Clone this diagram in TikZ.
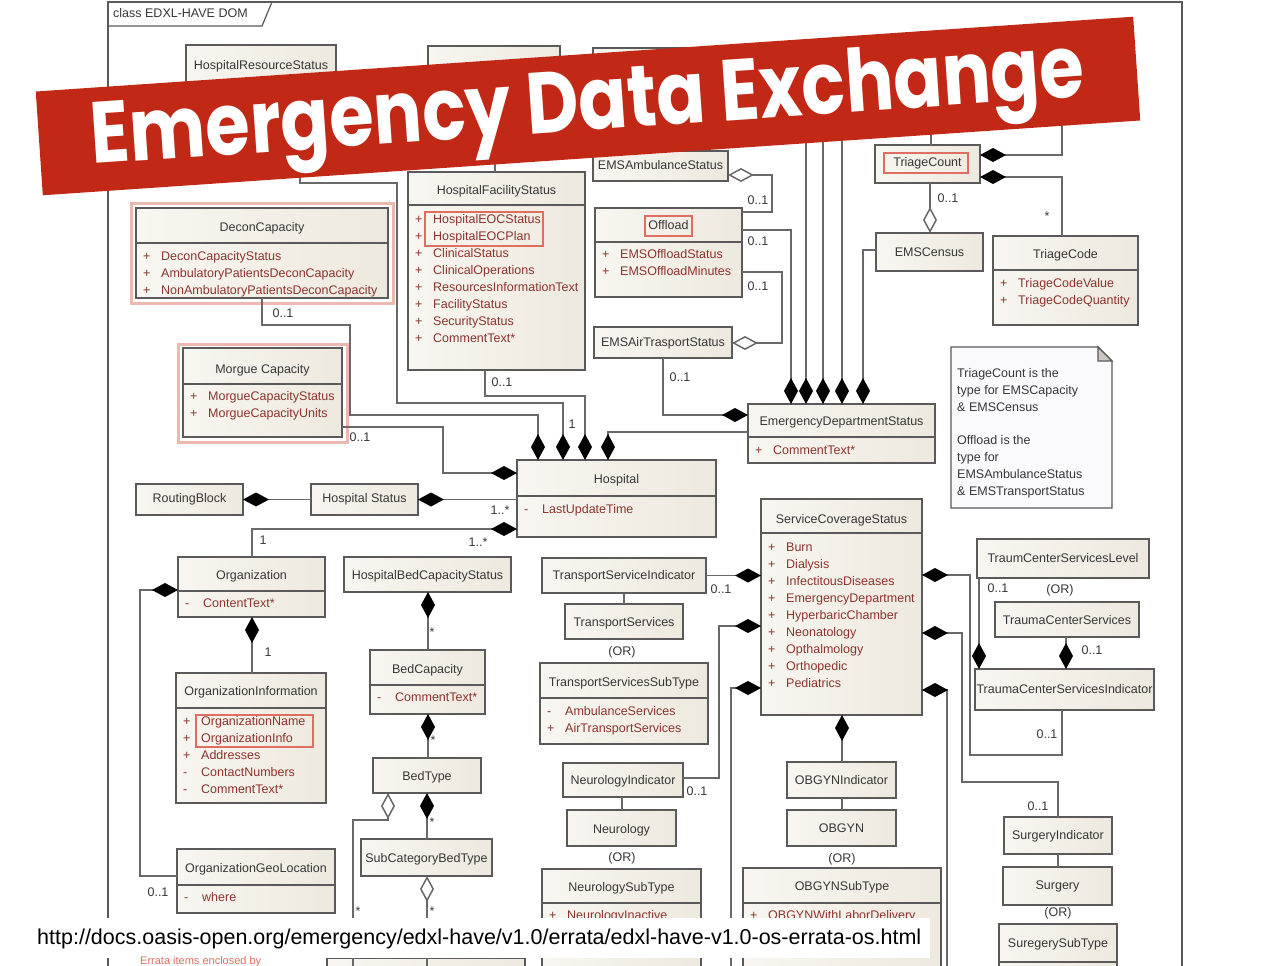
\documentclass[tikz,border=0pt]{standalone}
\usepackage{fontspec}
\usepackage{graphicx}
\usetikzlibrary{arrows.meta,fit,calc}
\newfontfamily\bx{Liberation Sans}
\newfontfamily\bannerfont{Poppins}
\definecolor{boxfill}{RGB}{238,233,222}
\definecolor{boxlight}{RGB}{248,246,241}
\definecolor{boxline}{RGB}{90,90,90}
\definecolor{conn}{RGB}{105,105,105}
\definecolor{attrc}{RGB}{140,52,45}
\definecolor{hdr}{RGB}{55,55,55}
\definecolor{errred}{RGB}{222,110,95}
\definecolor{glow}{RGB}{236,185,175}
\definecolor{bannerred}{RGB}{193,40,22}
\definecolor{notefill}{RGB}{250,249,252}
\tikzset{
 cls/.style={draw=boxline, left color=boxlight, right color=boxfill, line width=1.4pt, inner sep=0pt, outer sep=0pt},
 sepl/.style={draw=boxline, line width=1.2pt},
 ht/.style={font=\bx\fontsize{12.5}{14}\selectfont, text=hdr, inner sep=0pt, text height=9pt, text depth=2.5pt},
 attrtxt/.style={ht, text=attrc, anchor=west},
 lbl/.style={ht, text=hdr},
 cn/.style={draw=conn, line width=1.5pt},
 comp/.style={cn, -{Diamond[length=26pt,width=14pt,fill=black,color=black]}},
 agg/.style={cn, -{Diamond[length=26pt,width=14pt,fill=white]}},
 errbox/.style={draw=errred, line width=1.2pt},
}
\newcounter{tn}
\newcommand\ubox[5]{\node[cls, fit={(#2,#3) (#4,#5)}] (#1) {};}
\newcommand\usep[2]{\draw[sepl] (#1.west |- 0,#2) -- (#1.east |- 0,#2);}
\newcommand\uhead[3]{\stepcounter{tn}\node[ht, name=txt\arabic{tn}] at (#1 |- 0,#2) {#3};}
\newcommand\uattr[4]{\stepcounter{tn}\node[attrtxt, name=txt\arabic{tn}] at ($(#1.west |- 0,#2)+(7,0)$) {#3};%
 \stepcounter{tn}\node[attrtxt, name=txt\arabic{tn}] at ($(#1.west |- 0,#2)+(25,0)$) {#4};}
\newcommand\ulab[3]{\stepcounter{tn}\node[lbl, name=txt\arabic{tn}] at (#1,#2) {#3};}
\begin{document}
\begin{tikzpicture}[x=1pt,y=-1pt]
\useasboundingbox (0,0) rectangle (1288,966);
\clip (0,0) rectangle (1288,966);
\fill[white] (0,0) rectangle (1288,966);
% frame
\draw[boxline, line width=1.4pt] (108,2) rectangle (1182,1000);
\draw[boxline, line width=1.2pt] (108,26) -- (262,26) -- (272,2);
\node[ht, anchor=west] (title) at (113,14) {class EDXL-HAVE DOM};

% glows
\draw[glow, line width=3pt] (131,203) rectangle (393,303);
\draw[glow, line width=3pt] (178,344) rectangle (347,442);

% ---------- boxes ----------
\ubox{hrs}{186}{45}{336}{100}
\uhead{hrs}{66}{HospitalResourceStatus}
\ubox{boxB}{428}{46}{560}{110}
\ubox{boxC}{593}{48}{720}{110}

\ubox{decon}{136}{208}{388}{298}
\uhead{decon}{228}{DeconCapacity}
\usep{decon}{243}
\uattr{decon}{257}{+}{DeconCapacityStatus}
\uattr{decon}{274}{+}{AmbulatoryPatientsDeconCapacity}
\uattr{decon}{291}{+}{NonAmbulatoryPatientsDeconCapacity}

\ubox{morgue}{183}{348}{342}{437}
\uhead{morgue}{370}{Morgue Capacity}
\usep{morgue}{384}
\uattr{morgue}{397}{+}{MorgueCapacityStatus}
\uattr{morgue}{414}{+}{MorgueCapacityUnits}

\ubox{hfs}{408}{172}{585}{370}
\uhead{hfs}{191}{HospitalFacilityStatus}
\usep{hfs}{205}
\uattr{hfs}{220}{+}{HospitalEOCStatus}
\uattr{hfs}{237}{+}{HospitalEOCPlan}
\uattr{hfs}{254}{+}{ClinicalStatus}
\uattr{hfs}{271}{+}{ClinicalOperations}
\uattr{hfs}{288}{+}{ResourcesInformationText}
\uattr{hfs}{305}{+}{FacilityStatus}
\uattr{hfs}{322}{+}{SecurityStatus}
\uattr{hfs}{339}{+}{CommentText*}
\draw[errbox] (425,212) rectangle (543,246);

\ubox{amb}{593}{151}{728}{181}
\uhead{amb}{166}{EMSAmbulanceStatus}

\ubox{offload}{595}{208}{742}{297}
\uhead{offload}{226}{Offload}
\draw[errbox] (645,216) rectangle (692,236);
\usep{offload}{242}
\uattr{offload}{255}{+}{EMSOffloadStatus}
\uattr{offload}{272}{+}{EMSOffloadMinutes}

\ubox{air}{594}{327}{732}{358}
\uhead{air}{343}{EMSAirTrasportStatus}

\ubox{eds}{748}{404}{935}{463}
\uhead{eds}{422}{EmergencyDepartmentStatus}
\usep{eds}{437}
\uattr{eds}{451}{+}{CommentText*}

\ubox{tcount}{875}{145}{980}{183}
\uhead{tcount}{163}{TriageCount}
\draw[errbox] (884,153) rectangle (968,173);

\ubox{census}{876}{233}{983}{271}
\uhead{census}{253}{EMSCensus}

\ubox{tcode}{993}{236}{1138}{325}
\uhead{tcode}{255}{TriageCode}
\usep{tcode}{270}
\uattr{tcode}{284}{+}{TriageCodeValue}
\uattr{tcode}{301}{+}{TriageCodeQuantity}

% note
\draw[boxline, fill=notefill, line width=1.4pt] (951,347) -- (1098,347) -- (1112,361) -- (1112,508) -- (951,508) -- cycle;
\draw[boxline, fill=boxfill!70!gray, line width=1.2pt] (1098,347) -- (1098,361) -- (1112,361) -- cycle;
\node[ht, anchor=west] (n1) at (957,374) {TriageCount is the};
\node[ht, anchor=west] (n2) at (957,391) {type for EMSCapacity};
\node[ht, anchor=west] (n3) at (957,408) {\& EMSCensus};
\node[ht, anchor=west] (n4) at (957,441) {Offload is the};
\node[ht, anchor=west] (n5) at (957,458) {type for};
\node[ht, anchor=west] (n6) at (957,475) {EMSAmbulanceStatus};
\node[ht, anchor=west] (n7) at (957,492) {\& EMSTransportStatus};

\ubox{hospital}{517}{460}{716}{537}
\uhead{hospital}{480}{Hospital}
\usep{hospital}{496}
\uattr{hospital}{510}{-}{LastUpdateTime}

\ubox{hstatus}{311}{484}{418}{515}
\uhead{hstatus}{499}{Hospital Status}
\ubox{routing}{136}{484}{243}{515}
\uhead{routing}{499}{RoutingBlock}

\ubox{org}{178}{557}{325}{617}
\uhead{org}{576}{Organization}
\usep{org}{591}
\uattr{org}{604}{-}{ContentText*}

\ubox{orginfo}{176}{673}{326}{803}
\uhead{orginfo}{692}{OrganizationInformation}
\usep{orginfo}{708}
\uattr{orginfo}{722}{+}{OrganizationName}
\uattr{orginfo}{739}{+}{OrganizationInfo}
\uattr{orginfo}{756}{+}{Addresses}
\uattr{orginfo}{773}{-}{ContactNumbers}
\uattr{orginfo}{790}{-}{CommentText*}
\draw[errbox] (196,715) rectangle (313,747);

\ubox{orggeo}{177}{849}{335}{913}
\uhead{orggeo}{869}{OrganizationGeoLocation}
\usep{orggeo}{885}
\uattr{orggeo}{898}{-}{where}

\ubox{hbcs}{344}{557}{511}{592}
\uhead{hbcs}{576}{HospitalBedCapacityStatus}
\ubox{bedcap}{370}{650}{485}{714}
\uhead{bedcap}{670}{BedCapacity}
\usep{bedcap}{685}
\uattr{bedcap}{698}{-}{CommentText*}
\ubox{bedtype}{373}{758}{481}{793}
\uhead{bedtype}{777}{BedType}
\ubox{subcat}{361}{839}{492}{876}
\uhead{subcat}{859}{SubCategoryBedType}

\ubox{tsi}{542}{558}{706}{593}
\uhead{tsi}{576}{TransportServiceIndicator}
\ubox{ts}{565}{604}{683}{639}
\uhead{ts}{623}{TransportServices}
\ulab{622}{652}{(OR)}
\ubox{tsst}{540}{663}{708}{744}
\uhead{tsst}{683}{TransportServicesSubType}
\usep{tsst}{698}
\uattr{tsst}{712}{-}{AmbulanceServices}
\uattr{tsst}{729}{+}{AirTransportServices}

\ubox{neuroind}{563}{763}{683}{797}
\uhead{neuroind}{781}{NeurologyIndicator}
\ubox{neuro}{567}{810}{676}{846}
\uhead{neuro}{830}{Neurology}
\ulab{622}{858}{(OR)}
\ubox{neurost}{542}{869}{701}{1000}
\uhead{neurost}{888}{NeurologySubType}
\usep{neurost}{903}
\uattr{neurost}{916}{+}{NeurologyInactive}

\ubox{scs}{761}{499}{922}{715}
\uhead{scs}{520}{ServiceCoverageStatus}
\usep{scs}{533}
\uattr{scs}{548}{+}{Burn}
\uattr{scs}{565}{+}{Dialysis}
\uattr{scs}{582}{+}{InfectitousDiseases}
\uattr{scs}{599}{+}{EmergencyDepartment}
\uattr{scs}{616}{+}{HyperbaricChamber}
\uattr{scs}{633}{+}{Neonatology}
\uattr{scs}{650}{+}{Opthalmology}
\uattr{scs}{667}{+}{Orthopedic}
\uattr{scs}{684}{+}{Pediatrics}

\ubox{tcsl}{977}{539}{1149}{578}
\uhead{tcsl}{559}{TraumCenterServicesLevel}
\ubox{tcs}{995}{602}{1139}{637}
\uhead{tcs}{621}{TraumaCenterServices}
\ubox{tcsi}{975}{669}{1154}{710}
\uhead{tcsi}{690}{TraumaCenterServicesIndicator}

\ubox{obgynind}{787}{762}{896}{798}
\uhead{obgynind}{781}{OBGYNIndicator}
\ubox{obgyn}{787}{810}{896}{846}
\uhead{obgyn}{829}{OBGYN}
\ulab{842}{859}{(OR)}
\ubox{obgynst}{743}{868}{941}{1000}
\uhead{obgynst}{887}{OBGYNSubType}
\usep{obgynst}{903}
\uattr{obgynst}{916}{+}{OBGYNWithLaborDelivery}

\ubox{surgind}{1004}{817}{1112}{854}
\uhead{surgind}{836}{SurgeryIndicator}
\ubox{surgery}{1003}{867}{1112}{905}
\uhead{surgery}{886}{Surgery}
\ulab{1058}{913}{(OR)}
\ubox{surgst}{999}{924}{1117}{1000}
\uhead{surgst}{944}{SuregerySubType}
\usep{surgst}{962}

\ubox{errb}{327}{958}{525}{1000}

% ---------- connectors ----------
\coordinate (c1) at (300,183);
\draw[comp] (hrs.south -| 300,0) -- (c1) -- (397,183) -- (397,403) -- (563,403) -- (hospital.north -| 563,0);
\draw[comp] (decon.south) -- ++(0,27) -| (350,415) -- (538,415) -- (hospital.north -| 538,0);
\draw[comp] (hfs.south -| 485,0) -- (485,396) -- (585,396) -- (hospital.north -| 585,0);
\draw[comp] (eds.west |- 0,432) -- (608,432) -- (hospital.north -| 608,0);
\draw[comp] (morgue.east |- 0,427) -- (443,427) -- (443,473) -- (hospital.west |- 0,473);
\draw[comp] (hospital.west |- hstatus.east) -- (hstatus.east);
\draw[comp] (hstatus.west) -- (routing.east);
\draw[comp] (org.north -| 252,0) -- (252,529) -- (hospital.west |- 0,529);
\draw[comp] (orggeo.west |- 0,876) -- (140,876) -- (140,590) -- (org.west |- 0,590);
\draw[comp] (orginfo.north -| 252,0) -- (org.south -| 252,0);
\draw[comp] (bedcap.north -| 428,0) -- (hbcs.south -| 428,0);
\draw[comp] (bedtype.north -| 428,0) -- (bedcap.south -| 428,0);
\draw[comp] (subcat.north -| 427,0) -- (bedtype.south -| 427,0);
\coordinate (e1) at (353,1000);
\draw[agg] (e1) -- (353,820) -- (388,820) -- (bedtype.south -| 388,0);
\coordinate (e2) at (427,1000);
\draw[agg] (e2) -- (subcat.south -| 427,0);
\draw[comp] (tsi.east) -- (scs.west |- tsi.east);
\draw[cn] (tsi.south -| 624,0) -- (ts.north -| 624,0);
\draw[comp] (neuroind.east |- 0,778) -- (719,778) -- (719,626) -- (scs.west |- 0,626);
\draw[cn] (neuroind.south -| 622,0) -- (neuro.north -| 622,0);
\coordinate (e3) at (731,1000);
\draw[comp] (e3) -- (731,688) -- (scs.west |- 0,688);
\draw[comp] (obgynind.north -| 842,0) -- (scs.south -| 842,0);
\draw[cn] (obgynind.south -| 842,0) -- (obgyn.north -| 842,0);
\draw[comp] (tcsi.south -| 1062,0) -- (1062,755) -- (970,755) -- (970,575) -- (scs.east |- 0,575);
\draw[comp] (surgind.north -| 1058,0) -- (1058,782) -- (962,782) -- (962,633) -- (scs.east |- 0,633);
\coordinate (e4) at (947,1000);
\draw[comp] (e4) -- (947,690) -- (scs.east |- 0,690);
\draw[comp] (tcsl.south -| 979,0) -- (tcsi.north -| 979,0);
\draw[comp] (tcs.south -| 1066,0) -- (tcsi.north -| 1066,0);
\draw[cn] (surgind.south -| 1058,0) -- (surgery.north -| 1058,0);
\draw[comp] (air.south) -- (air.south |- 0,415) -- (eds.west |- 0,415);
\draw[agg] (offload.east |- 0,272) -- (782,272) -- (782,343) -- (air.east |- 0,343);
\draw[agg] (offload.east |- 0,212) -- (772,212) -- (772,175) -- (amb.east |- 0,175);
\draw[comp] (offload.east |- 0,230) -- (791,230) -- (eds.north -| 791,0);
\coordinate (t1) at (806,60);
\coordinate (t2) at (823,60);
\coordinate (t3) at (842,60);
\draw[comp] (t1) -- (eds.north -| 806,0);
\draw[comp] (t2) -- (eds.north -| 823,0);
\draw[comp] (t3) -- (eds.north -| 842,0);
\draw[comp] (census.west |- 0,250) -- (863,250) -- (eds.north -| 863,0);
\draw[agg] (tcount.south -| 930,0) -- (census.north -| 930,0);
\draw[comp] (tcode.north -| 1062,0) -- (1062,177) -- (tcount.east |- 0,177);
\coordinate (t4) at (1062,60);
\draw[comp] (t4) -- (1062,155) -- (tcount.east |- 0,155);
\coordinate (t5) at (931,60);
\draw[cn] (tcount.north -| 931,0) -- (t5);
\draw[cn] (hfs.north -| 495,0) -- (boxB.south -| 495,0);

% ---------- labels ----------
\ulab{283}{314}{0..1}
\ulab{360}{438}{0..1}
\ulab{502}{383}{0..1}
\ulab{572}{425}{1}
\ulab{500}{511}{1..*}
\ulab{478}{543}{1..*}
\ulab{263}{541}{1}
\ulab{158}{893}{0..1}
\ulab{268}{653}{1}
\ulab{432}{633}{*}
\ulab{433}{741}{*}
\ulab{432}{823}{*}
\ulab{358}{912}{*}
\ulab{432}{912}{*}
\ulab{721}{590}{0..1}
\ulab{697}{792}{0..1}
\ulab{680}{378}{0..1}
\ulab{758}{201}{0..1}
\ulab{758}{242}{0..1}
\ulab{758}{287}{0..1}
\ulab{948}{199}{0..1}
\ulab{1047}{217}{*}
\ulab{998}{589}{0..1}
\ulab{1060}{590}{(OR)}
\ulab{1092}{651}{0..1}
\ulab{1047}{735}{0..1}
\ulab{1038}{807}{0..1}

% ---------- banner ----------
\node[rotate=3.9, fill=bannerred, minimum width=1100pt, minimum height=104pt, inner sep=0pt] (banner) at (588,106) {};
\node[rotate=3.9, text=white, inner sep=0pt] (bannertext) at (588,110) {\resizebox*{995pt}{88pt}{\bannerfont\bfseries Emergency Data Exchange}};

% ---------- url ----------
\node[fill=white, inner sep=0pt, minimum width=902pt, minimum height=40pt, anchor=north west] (urlbox) at (28,918) {};
\node[anchor=west, inner sep=0pt] (url) at (37,939) {\resizebox{884pt}{!}{\bx http://docs.oasis-open.org/emergency/edxl-have/v1.0/errata/edxl-have-v1.0-os-errata-os.html}};
\node[anchor=west, inner sep=0pt, text=errred, font=\bx\fontsize{11}{12}\selectfont] (errtxt) at (140,962) {Errata items enclosed by};
\end{tikzpicture}
\end{document}
